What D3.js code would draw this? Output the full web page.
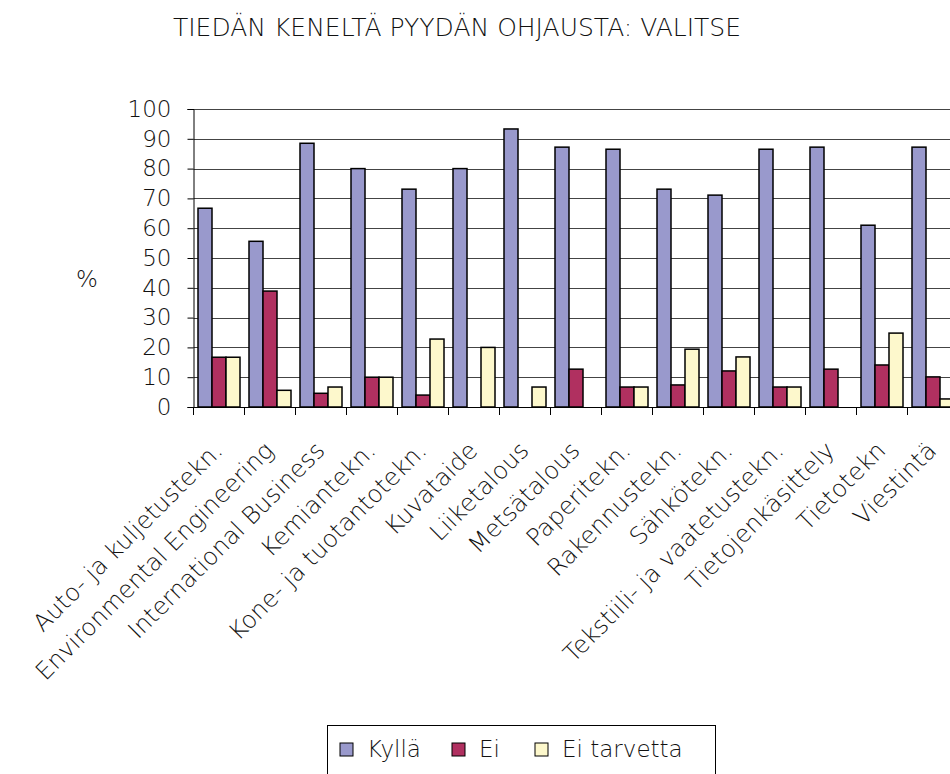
<!DOCTYPE html>
<html>
<head>
<meta charset="utf-8">
<script src="https://cdnjs.cloudflare.com/ajax/libs/d3/7.8.5/d3.min.js"></script>
<style>
  body { margin: 0; background: #fff; }
  svg { font-family: "DejaVu Sans", sans-serif; font-weight: 200; fill: #111; }
  .grid line { stroke: #444; stroke-width: 1; }
  .axis path, .axis line { stroke: #000; }
  .axis text { font-size: 23px; font-family: "DejaVu Sans", sans-serif; font-weight: 200; fill: #111; }
</style>
</head>
<body>
<svg width="950" height="774"></svg>
<script>
var categories = ["Auto- ja kuljetustekn.", "Environmental Engineering", "International Business",
    "Kemiantekn.", "Kone- ja tuotantotekn.", "Kuvataide", "Liiketalous", "Metsätalous",
    "Paperitekn.", "Rakennustekn.", "Sähkötekn.", "Tekstiili- ja vaatetustekn.",
    "Tietojenkäsittely", "Tietotekn", "Viestintä"];
var kylla = [66.7, 55.6, 88.5, 80, 73.1, 80, 93.3, 87.2, 86.5, 73.1, 71.1, 86.5, 87.2, 61.0, 87.2];
var ei = [16.7, 38.9, 4.6, 10, 4.0, 0, 0, 12.7, 6.7, 7.4, 12.1, 6.7, 12.7, 14.1, 10.1];
var eiTarvetta = [16.7, 5.6, 6.7, 10, 22.8, 20, 6.7, 0, 6.7, 19.4, 16.8, 6.7, 0, 24.8, 2.7];
var seriesNames = ["Kyllä", "Ei", "Ei tarvetta"];
var seriesColors = ["#9999cc", "#b03060", "#fdf8cc"];
var yTicks = [0, 10, 20, 30, 40, 50, 60, 70, 80, 90, 100];

var seriesValues = [kylla, ei, eiTarvetta];
var svg = d3.select("svg");

var plotLeft = 193.5, plotRight = 958.5, plotTop = 109, plotBottom = 407;

var x = d3.scaleBand().domain(categories).range([plotLeft, plotRight]);
var xInner = d3.scaleBand().domain(seriesNames).range([4.5, x.bandwidth() - 4.5]);
var y = d3.scaleLinear().domain([0, 100]).range([plotBottom, plotTop]);

// title
svg.append("text")
    .attr("x", 457).attr("y", 36)
    .attr("text-anchor", "middle")
    .style("font-size", "25px")
    .text("TIEDÄN KENELTÄ PYYDÄN OHJAUSTA: VALITSE");

// gridlines
svg.append("g").attr("class", "grid")
    .selectAll("line")
    .data(yTicks.slice(1))
    .enter().append("line")
    .attr("x1", plotLeft).attr("x2", plotRight)
    .attr("y1", function(d) { return Math.round(y(d)) + 0.5; })
    .attr("y2", function(d) { return Math.round(y(d)) + 0.5; });

// bars
var groups = svg.append("g").selectAll("g")
    .data(categories)
    .enter().append("g")
    .attr("transform", function(d) { return "translate(" + x(d) + ",0)"; });

groups.selectAll("rect")
    .data(function(d, i) {
        return seriesNames.map(function(s, j) { return { name: s, value: seriesValues[j][i], color: seriesColors[j] }; });
    })
    .enter().append("rect")
    .filter(function(d) { return d.value > 0; })
    .attr("x", function(d) { return xInner(d.name); })
    .attr("width", xInner.bandwidth())
    .attr("y", function(d) { return y(d.value); })
    .attr("height", function(d) { return y(0) - y(d.value); })
    .style("fill", function(d) { return d.color; })
    .style("stroke", "#000")
    .style("stroke-width", 1.5);

// axes
svg.append("g").attr("class", "axis")
    .attr("transform", "translate(" + plotLeft + ",0)")
    .call(d3.axisLeft(y).tickValues(yTicks).tickSize(6).tickPadding(16));

var xAxis = svg.append("g").attr("class", "axis")
    .attr("transform", "translate(0," + plotBottom + ")")
    .call(d3.axisBottom(x).tickSize(0).tickFormat(""));

xAxis.selectAll(".xtick")
    .data(categories.map(function(d) { return x(d); }).concat([plotRight]))
    .enter().append("line")
    .attr("x1", function(d) { return d; }).attr("x2", function(d) { return d; })
    .attr("y1", 0).attr("y2", 8)
    .style("stroke", "#000");

xAxis.selectAll(".catlabel")
    .data(categories)
    .enter().append("text")
    .attr("class", "catlabel")
    .attr("text-anchor", "end")
    .attr("transform", function(d) { return "translate(" + (x(d) + x.bandwidth() / 2 + 5) + ",45) rotate(-45)"; })
    .style("font-size", "24px")
    .text(function(d) { return d; });

// y label
svg.append("text")
    .attr("x", 87).attr("y", 287)
    .attr("text-anchor", "middle")
    .style("font-size", "23px")
    .text("%");

// legend
var legend = svg.append("g").attr("transform", "translate(327,725)");
legend.append("rect")
    .attr("x", 0.5).attr("y", 0.5).attr("width", 388).attr("height", 52)
    .style("fill", "#fff").style("stroke", "#000").style("stroke-width", 1);

var legendX = [13, 125, 208];
var item = legend.selectAll(".item")
    .data(seriesNames)
    .enter().append("g")
    .attr("transform", function(d, i) { return "translate(" + legendX[i] + ",18)"; });
item.append("rect")
    .attr("width", 13).attr("height", 13)
    .style("fill", function(d, i) { return seriesColors[i]; })
    .style("stroke", "#000");
item.append("text")
    .attr("x", 27).attr("y", 14)
    .style("font-size", "23px")
    .text(function(d) { return d; });
</script>
</body>
</html>
